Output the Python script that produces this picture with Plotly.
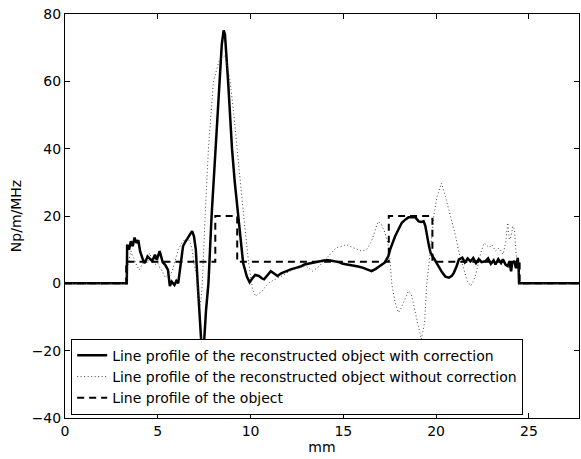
import plotly.graph_objects as go

# ---- data ----
# reconstructed object WITH correction (solid)
x_corr = [0, 3.33, 3.35, 3.45, 3.55, 3.65, 3.75, 3.85, 3.95, 4.05,
          4.2, 4.3, 4.45, 4.55, 4.7, 4.85, 4.95, 5.1, 5.2, 5.27,
          5.4, 5.55, 5.65, 5.75, 5.9, 6.0, 6.1, 6.18, 6.27, 6.36,
          6.5, 6.63, 6.75, 6.85, 6.95, 7.05, 7.15, 7.25, 7.35, 7.42,
          7.5, 7.6, 7.73, 7.9, 8.1, 8.32, 8.45, 8.55, 8.62, 8.79,
          9.0, 9.15, 9.33, 9.6, 9.8, 9.95, 10.1, 10.25, 10.45, 10.6,
          10.73, 10.9, 11.09, 11.25, 11.45, 11.65, 11.9, 12.2, 12.45, 12.7,
          12.9, 13.1, 13.35, 13.7, 14.08, 14.3, 14.53, 14.75, 14.98, 15.25,
          15.53, 15.8, 16.07, 16.3, 16.52, 16.75, 16.97, 17.24, 17.43, 17.52,
          17.79, 17.88, 18.15, 18.35, 18.51, 18.88, 19.06, 19.2, 19.33, 19.42,
          19.5, 19.6, 19.7, 19.96, 20.15, 20.33, 20.5, 20.69, 20.85, 20.96,
          21.1, 21.23, 21.41, 21.55, 21.7, 21.85, 22.0, 22.15, 22.3, 22.45,
          22.66, 22.8, 22.95, 23.1, 23.2, 23.35, 23.5, 23.6, 23.75, 23.86,
          23.95, 24.04, 24.1, 24.22, 24.3, 24.4, 24.45, 24.47, 27.7]
y_corr = [0, 0, 11.5, 10, 12.5, 11, 13.6, 12, 12.8, 9.5,
          7, 6, 8, 7.5, 6.6, 8.5, 7, 9.6, 8, 6.2,
          5.5, 4, -0.8, 0.5, -0.5, 0.7, 0, 4, 8, 11,
          12.5, 13.5, 14.5, 15.5, 14, 10, 0, -10, -18, -20.4,
          -17, -8, 0, 20, 40, 60, 71, 75.1, 74, 60,
          40, 30, 20, 6, 2, 0.3, 1.5, 2.5, 2.2, 1.5,
          1.2, 2.5, 3.6, 3, 2.2, 3, 3.6, 4.2, 4.6, 5,
          5.6, 5.8, 6.1, 6.4, 6.9, 6.8, 6.6, 6.3, 5.8, 5.6,
          5.3, 5, 4.6, 4.2, 3.6, 4.3, 5.1, 6.2, 8.1, 10,
          14, 15, 18, 19, 19.6, 19.6, 18.4, 18.2, 18.4, 17,
          14, 11.5, 9.1, 6.6, 4.5, 3.2, 2, 1.7, 2.2, 3.2,
          5, 7.1, 7.6, 6.2, 7.4, 6.5, 7.5, 6, 7.2, 6.3,
          6.6, 7.4, 5.8, 6.8, 5.6, 7.2, 6, 7.1, 5.5, 5.1,
          6.5, 3.6, 6, 6.6, 4.5, 7.6, 4, 0, 0]

# reconstructed object WITHOUT correction (dotted)
x_nocorr = [0, 3.33, 3.35, 3.45, 3.55, 3.65, 3.75, 3.85, 4.0, 4.15,
            4.3, 4.45, 4.55, 4.7, 4.85, 5.0, 5.1, 5.25, 5.4, 5.55,
            5.65, 5.8, 5.9, 6.0, 6.1, 6.2, 6.3, 6.45, 6.6, 6.75,
            6.85, 6.95, 7.07, 7.2, 7.28, 7.34, 7.4, 7.55, 7.73, 8.0,
            8.3, 8.5, 8.6, 8.7, 8.9, 9.1, 9.27, 9.45, 9.63, 9.9,
            10.1, 10.27, 10.45, 10.63, 10.8, 11.0, 11.25, 11.54, 11.8, 12.1,
            12.5, 13.0, 13.35, 13.7, 14.0, 14.26, 14.62, 14.9, 15.16, 15.53,
            15.75, 15.98, 16.25, 16.52, 16.7, 16.88, 17.05, 17.25, 17.4, 17.52,
            17.6, 17.79, 17.97, 18.1, 18.24, 18.51, 18.65, 18.79, 19.06, 19.2,
            19.38, 19.5, 19.7, 19.87, 20.05, 20.29, 20.5, 20.78, 21.05, 21.23,
            21.5, 21.68, 21.86, 22.0, 22.14, 22.41, 22.59, 22.75, 22.86, 23.0,
            23.2, 23.4, 23.6, 23.75, 23.86, 23.95, 24.04, 24.13, 24.22, 24.31,
            24.4, 24.45, 24.47, 27.7]
y_nocorr = [0, 0, 4, 7, 9.6, 8, 7, 5.5, 4, 5.5,
            7, 6, 9, 7, 5.6, 6, 4.7, 3.5, 1.8, 2.5,
            2.2, 4, 6.2, 8, 10, 11, 12, 13, 13.5, 12,
            10, 6, 3, -3.8, -6.5, -4, 0, 20, 40, 60,
            66, 67, 67.5, 66, 60, 50, 40, 30, 20, 6,
            -1.5, -3.8, -3, -2.3, -1, 0.2, 1, 1.7, 2.5, 3.6,
            4.5, 5.1, 3.6, 5.1, 7, 8.6, 10.6, 11, 11.5, 10.6,
            10, 9.6, 10, 12.5, 15.5, 18.4, 17.5, 15, 12, 7.1,
            0.2, -5.7, -8.7, -7.5, -5.7, -2.3, -3, -6.7, -13.6, -16.6,
            -11.6, 0.2, 10, 19.9, 25.8, 29.8, 25.8, 19.9, 14, 9.1,
            4.1, 0.7, -0.8, 0.5, 2.7, 9.1, 12, 11, 10.6, 11.5,
            9.6, 10.5, 8.6, 12, 18, 13, 14, 17, 16, 9,
            5, 5, 0, 0]

# true object (dashed)
x_obj = [0, 3.3, 3.3, 8.1, 8.1, 9.28, 9.28, 17.45, 17.45, 19.8, 19.8, 24.5, 24.5, 27.7]
y_obj = [0, 0, 6.4, 6.4, 20, 20, 6.4, 6.4, 20, 20, 6.4, 6.4, 0, 0]

x_ticks = [0, 5, 10, 15, 20, 25]
y_ticks = [-40, -20, 0, 20, 40, 60, 80]

FONT = "DejaVu Sans, Liberation Sans, Arial, sans-serif"

fig = go.Figure()
fig.add_trace(go.Scatter(
    x=x_corr, y=y_corr, mode="lines",
    name="Line profile of the reconstructed object with correction",
    line=dict(color="black", width=2.5)))
fig.add_trace(go.Scatter(
    x=x_nocorr, y=y_nocorr, mode="lines",
    name="Line profile of the reconstructed object without correction",
    line=dict(color="#444444", width=1, dash="1px,2.5px")))
fig.add_trace(go.Scatter(
    x=x_obj, y=y_obj, mode="lines",
    name="Line profile of the object",
    line=dict(color="black", width=2, dash="7px,5px")))

axis_common = dict(
    showline=True, linecolor="black", linewidth=1, mirror="ticks",
    ticks="inside", ticklen=5, tickcolor="black", tickwidth=1,
    showgrid=False, zeroline=False, automargin=False,
    tickfont=dict(family=FONT, size=14, color="black"),
)

fig.update_layout(
    width=581, height=459, autosize=False,
    margin=dict(l=65, r=2, t=14, b=41),
    paper_bgcolor="white", plot_bgcolor="white",
    font=dict(family=FONT, size=14, color="black"),
    showlegend=True,
    legend=dict(
        x=0.012, y=0.008, xanchor="left", yanchor="bottom",
        bgcolor="white", bordercolor="black", borderwidth=1,
        font=dict(family=FONT, size=14, color="black"),
        itemwidth=30, tracegroupgap=0,
    ),
    xaxis=dict(range=[0, 27.7], tickvals=x_ticks,
               title=dict(text="mm", standoff=0,
                          font=dict(family=FONT, size=14)),
               **axis_common),
    yaxis=dict(range=[-40, 80], tickvals=y_ticks,
               tickformat="d",
               title=dict(text="Np/m/MHz", standoff=6,
                          font=dict(family=FONT, size=14)),
               **axis_common),
)

fig.write_html(
    "out.html",
    config={"responsive": False, "displayModeBar": False},
    default_width="581px", default_height="459px",
    post_script="document.body.style.margin='0';document.body.style.overflow='hidden';",
)
